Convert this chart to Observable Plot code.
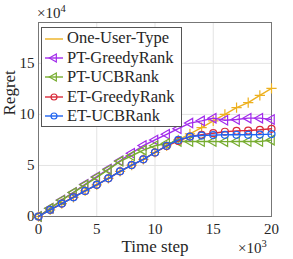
<!DOCTYPE html>
<html><head><meta charset="utf-8">
<script src="https://cdn.jsdelivr.net/npm/d3@7"></script>
<script src="https://cdn.jsdelivr.net/npm/@observablehq/plot@0.6"></script>
<style>
body{margin:0;background:#fff;}
#wrap{position:relative;width:293px;height:259px;font-family:"Liberation Serif","Times New Roman",serif;color:#262626;}
#legend{position:absolute;left:41px;top:27px;width:141px;height:100px;border:1px solid #555;background:#fff;box-sizing:border-box;padding-top:1px;}
.row{display:flex;align-items:center;height:19.4px;font-size:16.5px;line-height:1;}
.row svg{margin-left:2px;margin-right:3px;}
.mult{position:absolute;font-size:15px;line-height:1;}
.mult sup{font-size:10.5px;vertical-align:6px;line-height:1;}
</style></head>
<body>
<div id="wrap"></div>
<script>
// x: time step (×10^3), y: regret (×10^4)
const steps = [0,1,2,3,4,5,6,7,8,9,10,11,12,13,14,15,16,17,18,19,20];
const seriesNames = ["One-User-Type","PT-GreedyRank","PT-UCBRank","ET-GreedyRank","ET-UCBRank"];
const oneUserType  = [0,0.65,1.27,1.88,2.5,3.1,3.74,4.42,5.04,5.6,6.27,6.93,7.5,8.1,8.7,9.37,10.0,10.66,11.15,11.87,12.55];
const ptGreedyRank = [0,0.8,1.62,2.36,3.15,3.9,4.65,5.45,6.2,6.95,7.5,8.05,8.6,9.15,9.37,9.63,9.43,9.5,9.63,9.63,9.5];
const ptUCBRank    = [0,0.8,1.6,2.34,3.1,3.84,4.59,5.4,5.95,6.5,6.93,7.15,7.35,7.35,7.35,7.35,7.33,7.35,7.35,7.35,7.48];
const etGreedyRank = [0,0.65,1.27,1.9,2.5,3.1,3.74,4.42,5.04,5.6,6.27,6.9,7.4,7.83,8.0,8.16,8.3,8.39,8.42,8.49,8.59];
const etUCBRank    = [0,0.65,1.27,1.88,2.5,3.1,3.74,4.42,5.04,5.6,6.27,6.93,7.5,7.83,7.93,7.97,8.0,8.0,8.0,8.02,8.07];
const xTicks = [0,5,10,15,20];
const yTicks = [0,5,10,15];
const colors = ["#EDB120","#A22BEB","#77AC30","#D92B3A","#1F64F0"];
const symbols = ["plus","triangle","triangle","circle","circle"];
const rotations = [0,-90,-90,0,0];

const allValues = [oneUserType, ptGreedyRank, ptUCBRank, etGreedyRank, etUCBRank];
const data = [];
seriesNames.forEach((name, i) => {
  steps.forEach((t, j) => data.push({series: name, t, v: allValues[i][j], idx: i}));
});

const marks = [
  Plot.gridX(xTicks, {stroke: "#e3e3e3", strokeOpacity: 1}),
  Plot.gridY(yTicks, {stroke: "#e3e3e3", strokeOpacity: 1}),
  Plot.frame({stroke: "#777"}),
  Plot.axisX(xTicks, {tickSize: 0, tickPadding: 7, fontSize: 15, fill: "#262626", label: null}),
  Plot.axisY(yTicks, {tickSize: 0, tickPadding: 4, fontSize: 15, fill: "#262626", label: null}),
  Plot.text(["Time step"], {frameAnchor: "bottom", dy: 35, fontSize: 17, fill: "#262626"}),
  Plot.text(["Regret"], {frameAnchor: "left", dx: -29, dy: -4, rotate: -90, fontSize: 17, fill: "#262626"})
];
seriesNames.forEach((name, i) => {
  const d = data.filter(r => r.series === name);
  marks.push(Plot.line(d, {x: "t", y: "v", stroke: colors[i], strokeWidth: 1.4}));
  marks.push(Plot.dot(d, {x: "t", y: "v", stroke: colors[i], symbol: symbols[i], rotate: rotations[i], r: symbols[i] === "plus" ? 3.4 : 3.5, fill: "none", strokeWidth: 1.2}));
});

const chart = Plot.plot({
  width: 293, height: 259,
  marginLeft: 38, marginRight: 22, marginTop: 22, marginBottom: 43,
  x: {domain: [0, 20], axis: null, label: null},
  y: {domain: [0, 19], axis: null, label: null},
  style: {fontFamily: "'Liberation Serif','Times New Roman',serif", background: "#fff", overflow: "visible"},
  marks
});
const wrap = document.getElementById("wrap");
wrap.appendChild(chart);

// multipliers
const m1 = document.createElement("div");
m1.className = "mult"; m1.style.left = "37px"; m1.style.top = "4px";
m1.innerHTML = "×10<sup>4</sup>";
wrap.appendChild(m1);
const m2 = document.createElement("div");
m2.className = "mult"; m2.style.left = "238px"; m2.style.top = "239px";
m2.innerHTML = "×10<sup>3</sup>";
wrap.appendChild(m2);

// legend
const leg = document.createElement("div");
leg.id = "legend";
seriesNames.forEach((name, i) => {
  const row = document.createElement("div");
  row.className = "row";
  const svg = d3.create("svg").attr("width", 20).attr("height", 12);
  svg.append("line").attr("x1", 1).attr("x2", 19).attr("y1", 6).attr("y2", 6).attr("stroke", colors[i]).attr("stroke-width", 1.4);
  const symMap = {plus: d3.symbolPlus, triangle: d3.symbolTriangle, circle: d3.symbolCircle};
  svg.append("path").attr("d", d3.symbol(symMap[symbols[i]], symbols[i] === "plus" ? 40 : 28)())
    .attr("transform", `translate(10,6) rotate(${rotations[i]})`)
    .attr("fill", symbols[i] === "plus" ? colors[i] : "none").attr("stroke", symbols[i] === "plus" ? "none" : colors[i]).attr("stroke-width", 1.2);
  row.appendChild(svg.node());
  const span = document.createElement("span");
  span.textContent = name;
  row.appendChild(span);
  leg.appendChild(row);
});
wrap.appendChild(leg);
</script>
</body></html>
